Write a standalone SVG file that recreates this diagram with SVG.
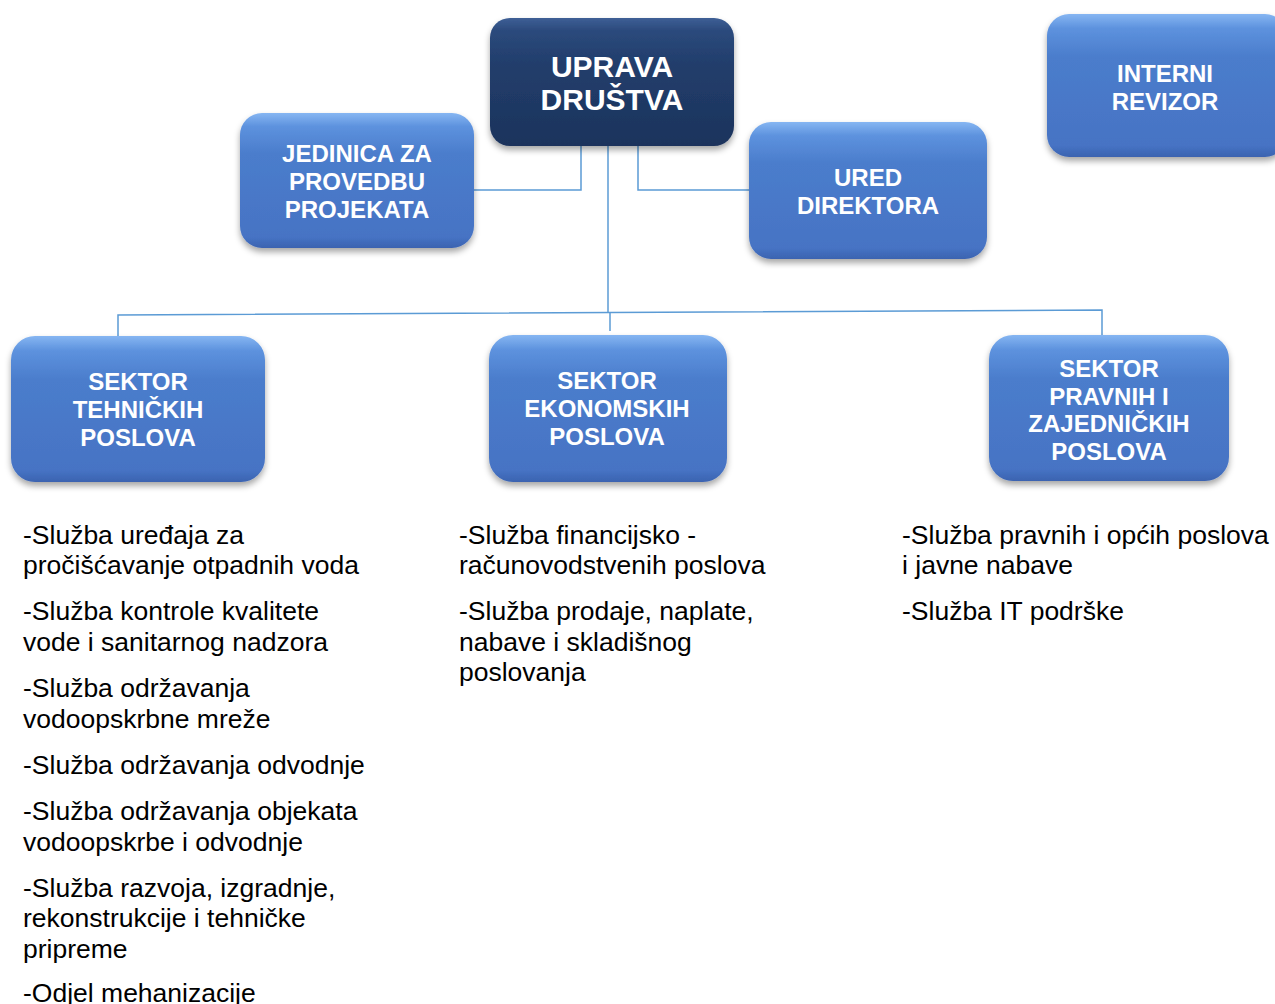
<svg xmlns="http://www.w3.org/2000/svg" width="1275" height="1004" viewBox="0 0 1275 1004">
<defs>
<linearGradient id="blue" x1="0" y1="0" x2="0" y2="1">
<stop offset="0" stop-color="#86b6f2"/>
<stop offset="0.1" stop-color="#5d92de"/>
<stop offset="0.3" stop-color="#4b7dcc"/>
<stop offset="0.92" stop-color="#4673c4"/>
<stop offset="1" stop-color="#3b63b0"/>
</linearGradient>
<linearGradient id="navy" x1="0" y1="0" x2="0" y2="1">
<stop offset="0" stop-color="#3e5f96"/>
<stop offset="0.1" stop-color="#2b4a7c"/>
<stop offset="0.35" stop-color="#223e6c"/>
<stop offset="1" stop-color="#1c335c"/>
</linearGradient>
<filter id="sh" x="-10%" y="-10%" width="120%" height="130%">
<feDropShadow dx="0" dy="4" stdDeviation="3" flood-color="#000" flood-opacity="0.35"/>
</filter>
<style>
.box{fill:url(#blue);filter:url(#sh)}
.top{fill:url(#navy);filter:url(#sh)}
.lbl{font-family:"Liberation Sans",Arial,sans-serif;font-weight:bold;font-size:24px;fill:#fff;text-anchor:middle}
.big{font-size:30px}
.body{font-family:"Liberation Sans",Arial,sans-serif;font-size:26.5px;fill:#000}
.con{fill:none;stroke:#5b9bd5;stroke-width:1.5}
</style>
</defs>
<rect width="1275" height="1004" fill="#fff"/>
<g id="connectors">
<polyline class="con" points="474,190 581,190 581,146"/>
<polyline class="con" points="638,146 638,190 749,190"/>
<line class="con" x1="608" y1="146" x2="608" y2="313"/>
<polyline class="con" points="118,336 118,315 1102,310 1102,335"/>
<line class="con" x1="610" y1="313" x2="610" y2="331"/>
</g>
<g id="uprava">
<rect class="top" x="490" y="18" width="244" height="128" rx="20"/>
<text class="lbl big" x="612" y="76.5">UPRAVA</text>
<text class="lbl big" x="612" y="110">DRUŠTVA</text>
</g>
<g id="jedinica">
<rect class="box" x="240" y="113" width="234" height="135" rx="22"/>
<text class="lbl" x="357" y="161.5">JEDINICA ZA</text>
<text class="lbl" x="357" y="189.5">PROVEDBU</text>
<text class="lbl" x="357" y="217.5">PROJEKATA</text>
</g>
<g id="ured">
<rect class="box" x="749" y="122" width="238" height="137" rx="22"/>
<text class="lbl" x="868" y="185.5">URED</text>
<text class="lbl" x="868" y="213.5">DIREKTORA</text>
</g>
<g id="interni">
<rect class="box" x="1047" y="14" width="240" height="143" rx="22"/>
<text class="lbl" x="1165" y="81.5">INTERNI</text>
<text class="lbl" x="1165" y="109.5">REVIZOR</text>
</g>
<g id="sektor-tehnickih">
<rect class="box" x="11" y="336" width="254" height="146" rx="24"/>
<text class="lbl" x="138" y="389.5">SEKTOR</text>
<text class="lbl" x="138" y="417.5">TEHNIČKIH</text>
<text class="lbl" x="138" y="445.5">POSLOVA</text>
</g>
<g id="sektor-ekonomskih">
<rect class="box" x="489" y="335" width="238" height="147" rx="24"/>
<text class="lbl" x="607" y="388.5">SEKTOR</text>
<text class="lbl" x="607" y="416.5">EKONOMSKIH</text>
<text class="lbl" x="607" y="444.5">POSLOVA</text>
</g>
<g id="sektor-pravnih">
<rect class="box" x="989" y="335" width="240" height="146" rx="24"/>
<text class="lbl" x="1109" y="376.5">SEKTOR</text>
<text class="lbl" x="1109" y="404.5">PRAVNIH I</text>
<text class="lbl" x="1109" y="431.5">ZAJEDNIČKIH</text>
<text class="lbl" x="1109" y="459.5">POSLOVA</text>
</g>
<g id="list-tehnickih" class="body">
<text x="23" y="543.5">-Služba uređaja za</text>
<text x="23" y="574">pročišćavanje otpadnih voda</text>
<text x="23" y="620">-Služba kontrole kvalitete</text>
<text x="23" y="650.5">vode i sanitarnog nadzora</text>
<text x="23" y="697">-Služba održavanja</text>
<text x="23" y="727.5">vodoopskrbne mreže</text>
<text x="23" y="773.5">-Služba održavanja odvodnje</text>
<text x="23" y="820">-Služba održavanja objekata</text>
<text x="23" y="850.5">vodoopskrbe i odvodnje</text>
<text x="23" y="896.5">-Služba razvoja, izgradnje,</text>
<text x="23" y="927">rekonstrukcije i tehničke</text>
<text x="23" y="957.5">pripreme</text>
<text x="23" y="1002">-Odjel mehanizacije</text>
</g>
<g id="list-ekonomskih" class="body">
<text x="459" y="543.5">-Služba financijsko -</text>
<text x="459" y="574">računovodstvenih poslova</text>
<text x="459" y="620">-Služba prodaje, naplate,</text>
<text x="459" y="650.5">nabave i skladišnog</text>
<text x="459" y="681">poslovanja</text>
</g>
<g id="list-pravnih" class="body">
<text x="902" y="543.5">-Služba pravnih i općih poslova</text>
<text x="902" y="574">i javne nabave</text>
<text x="902" y="620">-Služba IT podrške</text>
</g>
</svg>
